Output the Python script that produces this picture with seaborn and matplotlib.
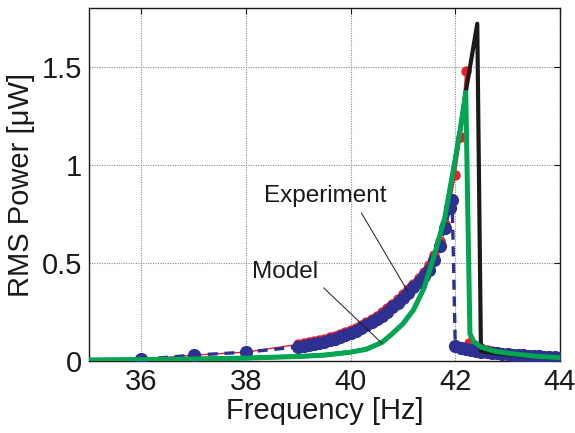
import numpy as np
import pandas as pd
import matplotlib
matplotlib.use("Agg")
import matplotlib.pyplot as plt
import seaborn as sns

# experiment, upward frequency sweep (red)
up_freq = [36.0, 37.0, 38.0,
           39.0, 39.1, 39.2, 39.3, 39.4, 39.5, 39.6, 39.7, 39.8, 39.9,
           40.0, 40.1, 40.2, 40.3, 40.4, 40.5, 40.6, 40.7, 40.8, 40.9,
           41.0, 41.1, 41.2, 41.3, 41.4, 41.5, 41.6, 41.7, 41.8, 41.9,
           42.0, 42.1, 42.2,
           42.27, 42.4, 42.5, 42.6, 42.7, 42.8, 42.9, 43.0, 43.2, 43.4, 43.6, 43.8, 44.0]
up_power = [0.008, 0.03, 0.045,
            0.085, 0.09, 0.095, 0.10, 0.105, 0.11, 0.12, 0.127, 0.137, 0.147,
            0.158, 0.168, 0.182, 0.197, 0.212, 0.228, 0.248, 0.268, 0.29, 0.315,
            0.34, 0.365, 0.395, 0.425, 0.455, 0.49, 0.54, 0.61, 0.70, 0.80,
            0.95, 1.14, 1.48,
            0.09, 0.075, 0.065, 0.058, 0.052, 0.047, 0.043, 0.04, 0.034, 0.029, 0.025, 0.021, 0.018]

# experiment, downward frequency sweep (blue)
down_freq = [36.0, 37.0, 38.0,
             39.0, 39.1, 39.2, 39.3, 39.4, 39.5, 39.6, 39.7, 39.8, 39.9,
             40.0, 40.1, 40.2, 40.3, 40.4, 40.5, 40.6, 40.7, 40.8, 40.9,
             41.0, 41.1, 41.2, 41.3, 41.4, 41.5, 41.6, 41.7, 41.8, 41.9, 41.94,
             42.0, 42.1, 42.2, 42.3, 42.4, 42.5, 42.6, 42.7, 42.8, 42.9,
             43.0, 43.1, 43.2, 43.3, 43.4, 43.5, 43.6, 43.7, 43.8, 43.9, 44.0]
down_power = [0.008, 0.03, 0.045,
              0.072, 0.077, 0.082, 0.087, 0.092, 0.097, 0.105, 0.112, 0.122, 0.132,
              0.143, 0.153, 0.167, 0.182, 0.197, 0.213, 0.232, 0.252, 0.273, 0.297,
              0.322, 0.347, 0.375, 0.405, 0.435, 0.465, 0.515, 0.585, 0.68, 0.78, 0.82,
              0.075, 0.065, 0.06, 0.055, 0.05, 0.047, 0.045, 0.042, 0.04, 0.037,
              0.035, 0.033, 0.031, 0.029, 0.027, 0.025, 0.024, 0.022, 0.02, 0.018, 0.017]

# model curves
model_freq = [35.0, 36.0, 37.0, 38.0, 39.0, 39.5, 40.0, 40.3, 40.6, 40.8, 41.0, 41.2,
              41.4, 41.6, 41.8, 41.9, 42.0, 42.1, 42.2, 42.28, 42.35, 42.5, 42.75,
              43.0, 43.5, 44.0]
model_power = [0.005, 0.007, 0.01, 0.015, 0.023, 0.03, 0.045, 0.06, 0.095, 0.14, 0.19, 0.26,
               0.37, 0.54, 0.73, 0.88, 1.03, 1.19, 1.37, 0.14, 0.10, 0.07, 0.05,
               0.04, 0.025, 0.017]

full_freq = [35.0, 36.0, 37.0, 38.0, 39.0, 39.5, 40.0, 40.3, 40.6, 40.8, 41.0, 41.2,
             41.4, 41.6, 41.8, 41.9, 42.0, 42.1, 42.2, 42.42, 42.49, 42.6,
             43.0, 43.5, 44.0]
full_power = [0.005, 0.007, 0.01, 0.015, 0.023, 0.03, 0.045, 0.06, 0.095, 0.14, 0.19, 0.26,
              0.37, 0.54, 0.73, 0.88, 1.03, 1.19, 1.37, 1.72, 0.05, 0.045,
              0.033, 0.022, 0.015]

red = "#e8202a"
blue = "#2e3192"
green = "#00a651"
ink = "#1a1a1a"

sns.set_theme(style="white")
plt.rcParams["font.family"] = ["Liberation Sans", "DejaVu Sans"]

fig = plt.figure(figsize=(5.75, 4.33), dpi=100)
ax = fig.add_axes([0.1548, 0.1663, 0.819, 0.815])

up = pd.DataFrame({"f": up_freq, "p": up_power})
down = pd.DataFrame({"f": down_freq, "p": down_power})
model = pd.DataFrame({"f": model_freq, "p": model_power})
full = pd.DataFrame({"f": full_freq, "p": full_power})

sns.lineplot(data=up, x="f", y="p", ax=ax, sort=False, estimator=None, color=red,
             lw=1.0, marker="o", markersize=7.5, markeredgewidth=0, zorder=2)
sns.lineplot(data=down, x="f", y="p", ax=ax, sort=False, estimator=None, color=blue,
             lw=2.4, linestyle=(0, (3, 2)), marker="o", markersize=9.5,
             markeredgewidth=0, zorder=3)
sns.lineplot(data=full, x="f", y="p", ax=ax, sort=False, estimator=None, color=ink,
             lw=3.0, zorder=4)
sns.lineplot(data=model, x="f", y="p", ax=ax, sort=False, estimator=None, color=green,
             lw=3.6, zorder=5)

ax.set_xlim(35, 44)
ax.set_ylim(0, 1.8)
ax.set_xticks([36, 38, 40, 42, 44])
ax.set_yticks([0, 0.5, 1, 1.5])
ax.set_yticklabels(["0", "0.5", "1", "1.5"])
ax.grid(True, color="#8a8a8a", linestyle=(0, (1, 1.2)), lw=0.8)
ax.tick_params(direction="in", length=4, width=0.8, labelsize=21, colors=ink,
               top=True, right=True, pad=5)
for s in ax.spines.values():
    s.set_color(ink)
    s.set_linewidth(1.0)

ax.set_xlabel("Frequency [Hz]", fontsize=21, color=ink, labelpad=1)
ax.set_ylabel("RMS Power [μW]", fontsize=21, color=ink, labelpad=5)

ax.annotate("Experiment", xy=(41.08, 0.36), xytext=(39.51, 0.84), fontsize=17.5,
            ha="center", va="center", color=ink,
            arrowprops=dict(arrowstyle="-", lw=0.7, color=ink, shrinkA=2, shrinkB=0,
                            relpos=(0.77, 0.0)), zorder=6)
ax.annotate("Model", xy=(40.6, 0.09), xytext=(38.75, 0.455), fontsize=17.5,
            ha="center", va="center", color=ink,
            arrowprops=dict(arrowstyle="-", lw=0.7, color=ink, shrinkA=2, shrinkB=0,
                            relpos=(1.0, 0.0)), zorder=6)

fig.savefig("out.png", dpi=100)
